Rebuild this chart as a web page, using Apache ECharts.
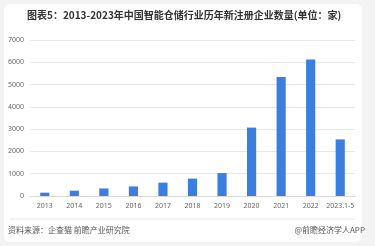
<!DOCTYPE html>
<html><head><meta charset="utf-8">
<script src="https://cdn.jsdelivr.net/npm/echarts@6/dist/echarts.min.js"></script>
<style>html,body{margin:0;padding:0;background:#f3f3f3}#c{width:375px;height:246px}</style>
</head><body><div id="c"></div>
<script>
const categories = ['2013','2014','2015','2016','2017','2018','2019','2020','2021','2022','2023.1-5'];
const values = [150, 240, 340, 430, 600, 780, 1030, 3070, 5340, 6120, 2540];
const yTicks = [0, 1000, 2000, 3000, 4000, 5000, 6000, 7000];
const titleText = '图表5：2013-2023年中国智能仓储行业历年新注册企业数量(单位：家)';
const sourceText = '资料来源：企查猫 前瞻产业研究院';
const brandText = '@前瞻经济学人APP';

const chart = echarts.init(document.getElementById('c'), null, {renderer: 'canvas'});
chart.setOption({
  backgroundColor: '#f3f3f3',
  graphic: [
    {type: 'rect', shape: {x: 4, y: 4, width: 358, height: 238, r: 6}, style: {fill: '#ffffff'}, z: -10},
    {type: 'text', left: 27, top: 10, style: {text: titleText, font: 'bold 10px "Noto Sans CJK SC", sans-serif', fill: '#333'}},
    {type: 'line', shape: {x1: 10, y1: 219, x2: 355, y2: 219}, style: {stroke: '#e6e6e6', lineWidth: 1}},
    {type: 'text', left: 8, top: 226, style: {text: sourceText, font: '8px "Noto Sans CJK SC", sans-serif', fill: '#555'}},
    {type: 'text', right: 10, top: 226, style: {text: brandText, font: '8px "Noto Sans CJK SC", sans-serif', fill: '#555'}}
  ],
  grid: {left: 30, right: 20, top: 40, bottom: 50},
  xAxis: {
    type: 'category', data: categories,
    axisLine: {lineStyle: {color: '#d9d9d9'}},
    axisTick: {show: false},
    axisLabel: {color: '#666', fontSize: 7, margin: 6, interval: 0, fontFamily: 'Noto Sans'}
  },
  yAxis: {
    type: 'value', min: yTicks[0], max: yTicks[yTicks.length - 1], interval: 1000,
    axisLine: {show: false}, axisTick: {show: false},
    axisLabel: {color: '#666', fontSize: 7, margin: 6, fontFamily: 'Noto Sans', formatter: v => String(v)},
    splitLine: {lineStyle: {color: '#e8e8e8'}}
  },
  series: [{
    type: 'bar', data: values, barWidth: '31%',
    itemStyle: {color: '#3a7fe0'}
  }]
});
</script></body></html>
